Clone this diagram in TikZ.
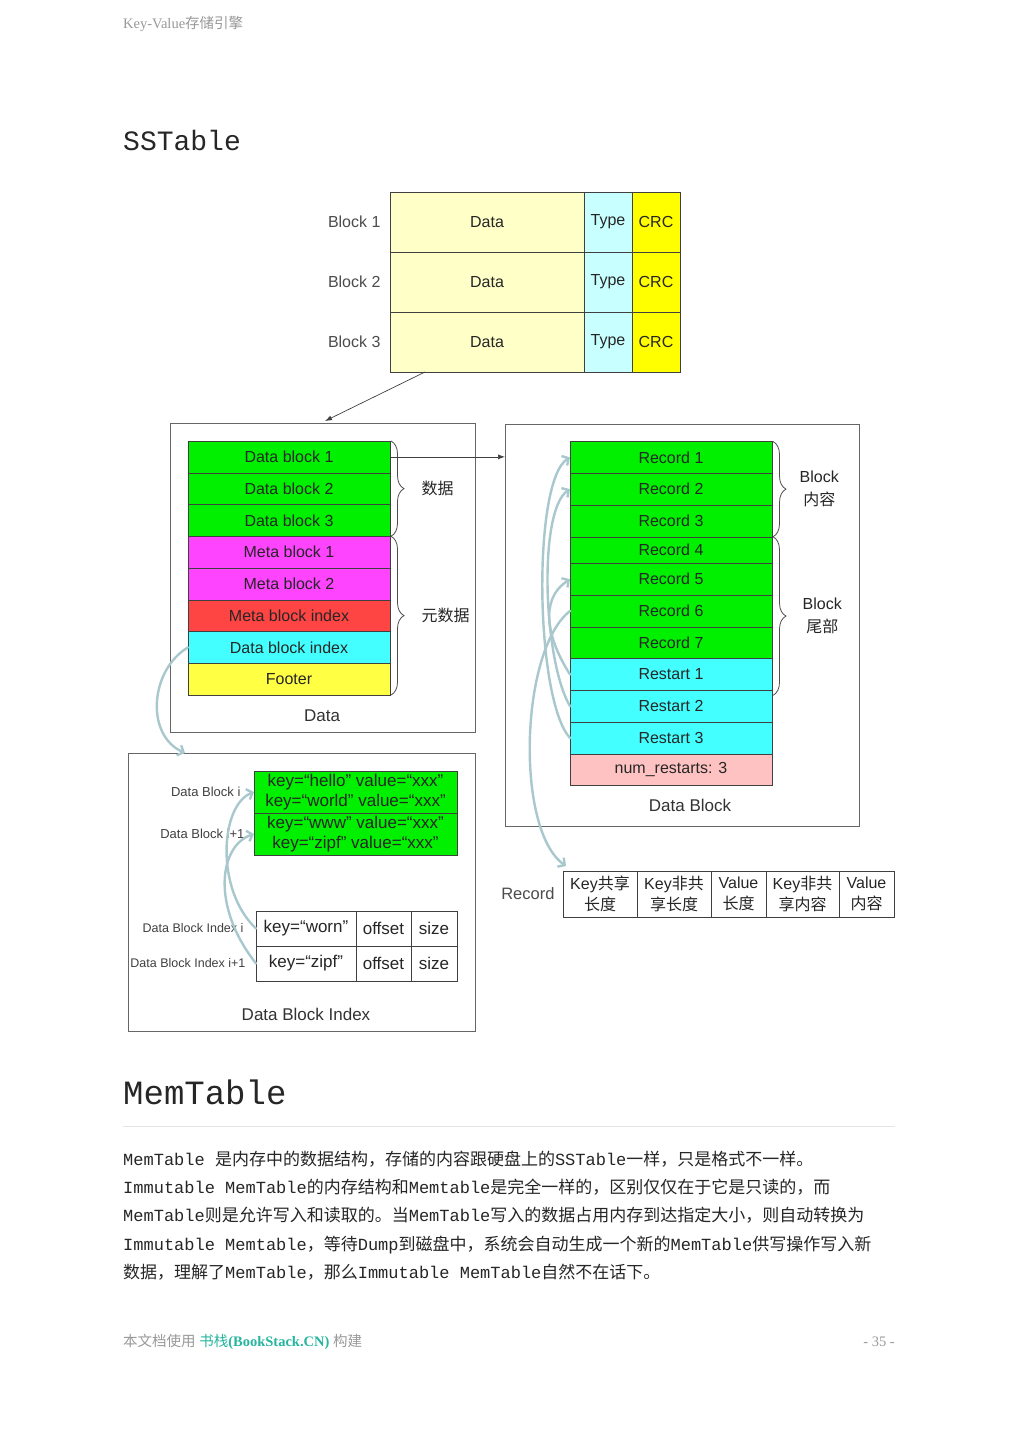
\documentclass[tikz,border=0pt]{standalone}
\usepackage{fontspec}
\usepackage{tikz}
\usetikzlibrary{
  arrows.meta,
  positioning,
  calc,
  decorations.pathreplacing
}
\setmainfont{Liberation Sans}
\newfontfamily\serifrm{Liberation Serif}
\newfontfamily\monott{Liberation Mono}
\newfontfamily\zhfont{Noto Sans CJK SC}
\newcommand{\zh}[1]{{\zhfont #1}}
\newcommand{\fsz}[2][0]{\fontsize{#2}{\ifdim#1pt=0pt #2\else #1\fi}\selectfont}
\definecolor{kvYellowL}{HTML}{FFFFC8}
\definecolor{kvCyanL}{HTML}{C8FFFF}
\definecolor{kvYellow}{HTML}{FFFF00}
\definecolor{kvGreen}{HTML}{00F000}
\definecolor{kvMagenta}{HTML}{FF44FF}
\definecolor{kvRed}{HTML}{FF4444}
\definecolor{kvCyan}{HTML}{44FFFF}
\definecolor{kvFooter}{HTML}{FFFF44}
\definecolor{kvPink}{HTML}{FFC2C2}
\definecolor{kvPtr}{HTML}{A8C8CE}
\definecolor{kvGrey}{HTML}{999999}
\definecolor{kvTeal}{HTML}{26B59E}
\tikzset{
  kvcell/.style={
    draw=black!75, inner sep=0pt, outer sep=0pt, align=center,
    text=black!85, font=\fsz{16}
  },
  rawcell/.style={kvcell, minimum width=194pt, minimum height=60pt, fill=kvYellowL},
  typecell/.style={kvcell, minimum width=48pt, minimum height=60pt, fill=kvCyanL},
  crccell/.style={kvcell, minimum width=48pt, minimum height=60pt, fill=kvYellow},
  layer/.style={kvcell, minimum width=202pt, minimum height=31.75pt},
  datalayer/.style={layer, fill=kvGreen},
  metalayer/.style={layer, fill=kvMagenta},
  metaidx/.style={layer, fill=kvRed},
  idxlayer/.style={layer, fill=kvCyan},
  footlayer/.style={layer, fill=kvFooter},
  reclayer/.style={layer, fill=kvGreen},
  rstlayer/.style={layer, fill=kvCyan},
  numlayer/.style={layer, fill=kvPink},
  pairs/.style={kvcell, fill=kvGreen, minimum width=203pt, minimum height=42pt, font=\fsz[19.5]{17}},
  idxcell/.style={kvcell, minimum height=35pt, font=\fsz{17}},
  fmtcell/.style={kvcell, minimum height=46pt, font=\fsz[21.5]{16}},
  frame/.style={draw=black!60, line width=0.9pt, inner sep=0pt, outer sep=0pt, anchor=north west},
  caption/.style={font=\fsz{17}, text=black!80},
  sidelbl/.style={font=\fsz{16}, text=black!70},
  smalllbl/.style={font=\fsz{13}, text=black!75},
  bracetxt/.style={font=\fsz[23]{16}, text=black!85, align=center},
  brace/.style={decorate, decoration={brace, amplitude=13pt}, line width=0.8pt, black!70},
  link/.style={-{Latex[length=7pt,width=5pt]}, line width=0.7pt, black!75},
  ptr/.style={-{Straight Barb[length=5pt,width=11pt]}, line width=2.4pt, kvPtr, line cap=round},
  pageline/.style={anchor=base west, inner sep=0pt, text=black!85, font=\monott\fsz{17}}
}

\begin{document}
\begin{tikzpicture}[x=1pt, y=-1pt]
  \useasboundingbox[fill=white] (0,0) rectangle (1019,1440);
  % Page header and title
  \node[anchor=base west, inner sep=0pt, text=kvGrey, font=\serifrm\fsz{14.5}] (hdr) at (123,28) {Key-Value\zh{存储引擎}};
  \node[anchor=base west, inner sep=0pt, text=black!85, font=\monott\fsz{28}] (ttl) at (123,150) {SSTable};

  % Top table: blocks with type and crc
  \node[rawcell, anchor=north west] (d1) at (390,192) {Data};
  \node[typecell, right=0pt of d1] (t1) {Type};
  \node[crccell, right=0pt of t1] (c1) {CRC};
  \node[rawcell, below=0pt of d1] (d2) {Data};
  \node[typecell, right=0pt of d2] (t2) {Type};
  \node[crccell, right=0pt of t2] (c2) {CRC};
  \node[rawcell, below=0pt of d2] (d3) {Data};
  \node[typecell, right=0pt of d3] (t3) {Type};
  \node[crccell, right=0pt of t3] (c3) {CRC};
  \node[sidelbl, left=6pt of d1] (b1) {Block 1};
  \node[sidelbl, left=6pt of d2] (b2) {Block 2};
  \node[sidelbl, left=6pt of d3] (b3) {Block 3};

  % Frames
  \node[frame, minimum width=305pt, minimum height=309pt] (dbox) at (170,423) {};
  \node[frame, minimum width=354pt, minimum height=402pt] (rbox) at (505,424) {};
  \node[frame, minimum width=347pt, minimum height=278pt] (ibox) at (128,753) {};
  \node[caption] (dboxlbl) at (322,716) {Data};
  \node[caption] (rboxlbl) at (690,805) {Data Block};
  \node[caption] (iboxlbl) at (306,1014) {Data Block Index};

  % SSTable layout (left frame)
  \node[datalayer, anchor=north west] (db1) at (188,441) {Data block 1};
  \node[datalayer, below=0pt of db1] (db2) {Data block 2};
  \node[datalayer, below=0pt of db2] (db3) {Data block 3};
  \node[metalayer, below=0pt of db3] (mb1) {Meta block 1};
  \node[metalayer, below=0pt of mb1] (mb2) {Meta block 2};
  \node[metaidx, below=0pt of mb2] (mbidx) {Meta block index};
  \node[idxlayer, below=0pt of mbidx] (dbidx) {Data block index};
  \node[footlayer, below=0pt of dbidx] (foot) {Footer};
  \draw[brace] ([xshift=1pt]db1.north east) -- node[bracetxt, right=27pt] {\zh{数据}} ([xshift=1pt]db3.south east);
  \draw[brace] ([xshift=1pt]mb1.north east) -- node[bracetxt, right=27pt] {\zh{元数据}} ([xshift=1pt]foot.south east);

  % Data block layout (right frame)
  \node[reclayer, anchor=north west] (rec1) at (570,441.5) {Record 1};
  \node[reclayer, below=0pt of rec1] (rec2) {Record 2};
  \node[reclayer, below=0pt of rec2] (rec3) {Record 3};
  \node[reclayer, below=0pt of rec3, minimum height=26.6pt] (rec4) {Record 4};
  \node[reclayer, below=0pt of rec4] (rec5) {Record 5};
  \node[reclayer, below=0pt of rec5] (rec6) {Record 6};
  \node[reclayer, below=0pt of rec6] (rec7) {Record 7};
  \node[rstlayer, below=0pt of rec7] (rst1) {Restart 1};
  \node[rstlayer, below=0pt of rst1] (rst2) {Restart 2};
  \node[rstlayer, below=0pt of rst2] (rst3) {Restart 3};
  \node[numlayer, below=0pt of rst3] (nrst) {num\_restarts: 3};
  \draw[brace] ([xshift=1pt]rec1.north east) -- node[bracetxt, right=23pt] {Block\\\zh{内容}} ([xshift=1pt]rec3.south east);
  \draw[brace] ([xshift=1pt]rec4.north east) -- node[bracetxt, right=26pt] {Block\\\zh{尾部}} ([xshift=1pt,yshift=-5pt]rst1.south east);

  % Record format
  \node[fmtcell, minimum width=74pt, anchor=north west] (fmt1) at (563,871) {Key\zh{共享}\\\zh{长度}};
  \node[fmtcell, minimum width=74pt, right=0pt of fmt1] (fmt2) {Key\zh{非共}\\\zh{享长度}};
  \node[fmtcell, minimum width=55pt, right=0pt of fmt2] (fmt3) {Value\\\zh{长度}};
  \node[fmtcell, minimum width=73pt, right=0pt of fmt3] (fmt4) {Key\zh{非共}\\\zh{享内容}};
  \node[fmtcell, minimum width=55pt, right=0pt of fmt4] (fmt5) {Value\\\zh{内容}};
  \node[sidelbl, font=\fsz{16.5}, left=5pt of fmt1] (fmtlbl) {Record};

  % Data block index (bottom-left frame)
  \node[pairs, anchor=north west] (g1) at (254,771) {key=“hello” value=“xxx”\\key=“world” value=“xxx”};
  \node[pairs, below=0pt of g1] (g2) {key=“www” value=“xxx”\\key=“zipf” value=“xxx”};
  \node[smalllbl, left=10pt of g1] (g1lbl) {Data Block i};
  \node[smalllbl, left=6pt of g2] (g2lbl) {Data Block i+1};
  \node[idxcell, minimum width=100pt, anchor=north west] (ix1) at (256,911) {key=“worn”};
  \node[idxcell, minimum width=55pt, right=0pt of ix1] (ixo1) {offset};
  \node[idxcell, minimum width=46pt, right=0pt of ixo1] (ixs1) {size};
  \node[idxcell, minimum width=100pt, below=0pt of ix1] (ix2) {key=“zipf”};
  \node[idxcell, minimum width=55pt, right=0pt of ix2] (ixo2) {offset};
  \node[idxcell, minimum width=46pt, right=0pt of ixo2] (ixs2) {size};
  \node[smalllbl, font=\fsz{12.5}, left=9pt of ix1] (ix1lbl) {Data Block Index i};
  \node[smalllbl, font=\fsz{12.5}, left=7pt of ix2] (ix2lbl) {Data Block Index i+1};

  % Connectors
  \draw[link] ([xshift=35pt]d3.south west) -- ([xshift=155pt,yshift=2pt]dbox.north west);
  \draw[link] (db1.east) -- (db1.east -| rbox.west);
  \coordinate (ientry) at ([xshift=57pt]ibox.north west);
  \coordinate (rentry) at ([xshift=3pt,yshift=5pt]fmt1.north west);
  \draw[ptr] (dbidx.west) .. controls (150,670) and (145,735) .. (ientry);
  \draw[ptr] (rst3.west) .. controls (535,700) and (532,480) .. (rec1.west);
  \draw[ptr] (rst2.west) .. controls (543,660) and (538,510) .. (rec2.west);
  \draw[ptr] (rst1.west) .. controls (548,640) and (538,600) .. (rec5.west);
  \draw[ptr] (rec6.west) .. controls (520,650) and (515,830) .. (rentry);
  \draw[ptr] (ix1.west) .. controls (215,890) and (220,805) .. (g1.west);
  \draw[ptr] (ix2.west) .. controls (210,905) and (220,845) .. (g2.west);

  % MemTable section
  \node[anchor=base west, inner sep=0pt, text=black!85, font=\monott\fsz{34}] (ttl2) at (123,1104) {MemTable};
  \draw[black!10, line width=1pt] (123,1126) -- (895,1126);
  \node[pageline] (p1) at (123,1165) {MemTable \zh{是内存中的数据结构，存储的内容跟硬盘上的}SSTable\zh{一样，只是格式不一样。}};
  \node[pageline] (p2) at (123,1193) {Immutable MemTable\zh{的内存结构和}Memtable\zh{是完全一样的，区别仅仅在于它是只读的，而}};
  \node[pageline] (p3) at (123,1221) {MemTable\zh{则是允许写入和读取的。当}MemTable\zh{写入的数据占用内存到达指定大小，则自动转换为}};
  \node[pageline] (p4) at (123,1250) {Immutable Memtable\zh{，等待}Dump\zh{到磁盘中，系统会自动生成一个新的}MemTable\zh{供写操作写入新}};
  \node[pageline] (p5) at (123,1278) {\zh{数据，理解了}MemTable\zh{，那么}Immutable MemTable\zh{自然不在话下。}};

  % Page footer
  \node[anchor=base west, inner sep=0pt, text=kvGrey, font=\serifrm\fsz{14.5}] (ftr) at (123,1346) {\zh{本文档使用} {\color{kvTeal}\zh{书栈}\textbf{(BookStack.CN)}} \zh{构建}};
  \node[anchor=base east, inner sep=0pt, text=kvGrey, font=\serifrm\fsz{14.5}] (pgno) at (895,1346) {- 35 -};
\end{tikzpicture}
\end{document}
